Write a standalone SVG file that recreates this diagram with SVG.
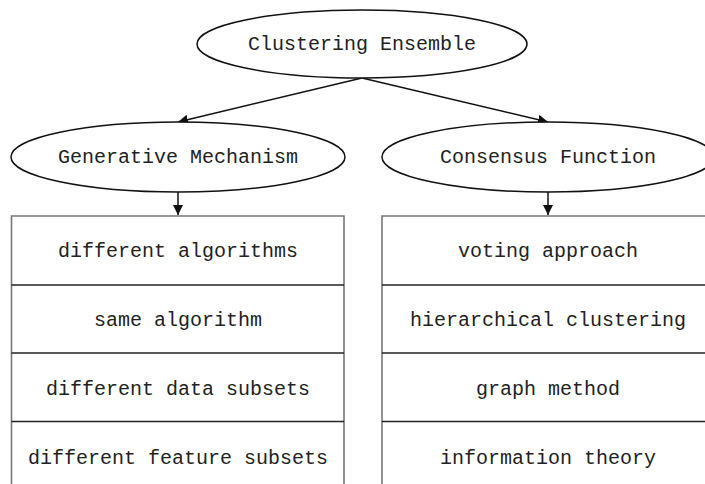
<svg xmlns="http://www.w3.org/2000/svg" width="705" height="484" viewBox="0 0 705 484">
<style>
text{font-family:"Liberation Mono",monospace;font-size:20px;fill:#222;text-anchor:middle;dominant-baseline:central}
.ell{fill:#fff;stroke:#111;stroke-width:1.5}
.box{fill:#fff;stroke:#777;stroke-width:1.6}
.sep{stroke:#222;stroke-width:1.6}
.con{stroke:#111;stroke-width:1.5;fill:none;marker-end:url(#ah)}
</style>
<defs>
<marker id="ah" viewBox="0 0 10 10" refX="10" refY="5" markerWidth="10" markerHeight="10" markerUnits="userSpaceOnUse" orient="auto">
<path d="M0,0 L10,5 L0,10 Z" fill="#111"/>
</marker>
</defs>
<rect width="705" height="484" fill="#fff"/>
<g id="connectors">
<line class="con" x1="362" y1="78" x2="178" y2="122"/>
<line class="con" x1="362" y1="78" x2="548" y2="122"/>
<line class="con" x1="178" y1="192" x2="178" y2="215"/>
<line class="con" x1="548" y1="192" x2="548" y2="215"/>
</g>
<g id="n-clustering-ensemble">
<ellipse class="ell" cx="362" cy="44" rx="165" ry="34"/>
<text x="362" y="44">Clustering Ensemble</text>
</g>
<g id="n-generative-mechanism">
<ellipse class="ell" cx="178" cy="157" rx="167" ry="35"/>
<text x="178" y="157">Generative Mechanism</text>
</g>
<g id="n-consensus-function">
<ellipse class="ell" cx="548" cy="157" rx="166" ry="35"/>
<text x="548" y="157">Consensus Function</text>
</g>
<g id="n-left-box">
<path class="box" d="M11.5,490 V216 H344 V490"/>
<line class="sep" x1="11.5" y1="285" x2="344" y2="285"/>
<line class="sep" x1="11.5" y1="353" x2="344" y2="353"/>
<line class="sep" x1="11.5" y1="421.5" x2="344" y2="421.5"/>
<text x="178" y="251">different algorithms</text>
<text x="178" y="320">same algorithm</text>
<text x="178" y="389">different data subsets</text>
<text x="178" y="458">different feature subsets</text>
</g>
<g id="n-right-box">
<path class="box" d="M382,490 V216 H720"/>
<line class="sep" x1="382" y1="285" x2="720" y2="285"/>
<line class="sep" x1="382" y1="353" x2="720" y2="353"/>
<line class="sep" x1="382" y1="421.5" x2="720" y2="421.5"/>
<text x="548" y="251">voting approach</text>
<text x="548" y="320">hierarchical clustering</text>
<text x="548" y="389">graph method</text>
<text x="548" y="458">information theory</text>
</g>
</svg>
